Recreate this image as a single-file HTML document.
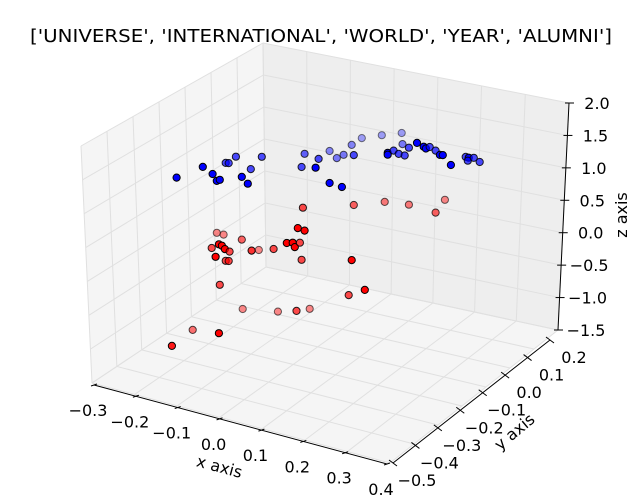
<!DOCTYPE html>
<html><head><meta charset="utf-8"><style>
html,body{margin:0;padding:0;background:#fff;}
svg{display:block;font-family:"DejaVu Sans","Liberation Sans",sans-serif;}
</style></head><body>
<svg id="chart" width="640" height="500" viewBox="0 0 640 500" xmlns="http://www.w3.org/2000/svg">
<rect width="640" height="500" fill="#fff"/>
<text x="321" y="42" text-anchor="middle" font-size="18" textLength="582" lengthAdjust="spacingAndGlyphs" fill="#000">['UNIVERSE', 'INTERNATIONAL', 'WORLD', 'YEAR', 'ALUMNI']</text>
<g id="panes"></g>
<g id="grid"></g>
<g id="axes"></g>
<g id="points"></g>
<text x="0" y="0" transform="translate(218,472) rotate(15)" text-anchor="middle" font-size="16">x axis</text>
<text x="0" y="0" transform="translate(518,436) rotate(-40)" text-anchor="middle" font-size="16">y axis</text>
<text x="0" y="0" transform="translate(627,215) rotate(-90)" text-anchor="middle" font-size="16">z axis</text>
</svg>
<script>
// ---- data ----
const xTicks = [-0.3,-0.2,-0.1,0.0,0.1,0.2,0.3,0.4];
const yTicks = [-0.5,-0.4,-0.3,-0.2,-0.1,0.0,0.1,0.2];
const zTicks = [-1.5,-1.0,-0.5,0.0,0.5,1.0,1.5,2.0];
const xTickLabels = ["\u22120.3","\u22120.2","\u22120.1","0.0","0.1","0.2","0.3","0.4"];
const yTickLabels = ["\u22120.5","\u22120.4","\u22120.3","\u22120.2","\u22120.1","0.0","0.1","0.2"];
const zTickLabels = ["\u22121.5","\u22121.0","\u22120.5","0.0","0.5","1.0","1.5","2.0"];
const Y_DEPTH = -0.15;
const blueX = [-0.30,-0.238,-0.215,-0.205,-0.198,-0.184,-0.177,-0.160,-0.146,-0.125,-0.132,-0.099,0.002,-0.005,0.035,0.028,0.061,0.061,0.078,0.094,0.090,0.113,0.118,0.137,0.184,0.231,0.198,0.198,0.212,0.224,0.233,0.238,0.248,0.267,0.283,0.288,0.297,0.311,0.321,0.328,0.347,0.382,0.389,0.387,0.401,0.415];
const blueZ = [0.71,0.99,0.92,0.83,0.86,1.15,1.16,1.29,1.00,1.16,0.92,1.40,1.63,1.41,1.61,1.46,1.78,1.28,1.70,1.78,1.27,1.97,1.82,2.12,2.25,2.37,2.00,1.97,2.06,2.03,2.20,2.03,2.17,2.28,2.25,2.23,2.27,2.24,2.19,2.20,2.08,2.27,2.27,2.22,2.29,2.25];
const blueDepth = [1,1,1,1,1,0.7,0.7,0.7,1,0.7,1,0.7,0.6,0.7,0.7,1,0.45,1,0.5,0.5,1,0.45,0.7,0.35,0.35,0.35,1,1,0.7,0.7,0.5,0.7,0.7,1,1,1,0.7,0.7,1,1,1,0.7,1,0.7,0.7,0.7];
const redX = [-0.002,-0.014,0.002,-0.040,-0.026,-0.021,-0.009,0.118,0.191,0.248,0.333,0.311,-0.205,-0.189,-0.146,-0.200,-0.193,-0.217,-0.186,-0.175,-0.208,-0.184,-0.177,-0.123,-0.106,-0.071,-0.005,0.113,0.144,0.106,-0.198,-0.144,-0.061,-0.017,0.014,-0.262,-0.200,-0.311];
const redZ = [0.78,0.44,0.43,0.16,0.19,0.13,0.22,1.04,1.22,1.28,1.51,1.27,0.02,0.02,0.02,-0.15,-0.16,-0.24,-0.20,-0.22,-0.36,-0.38,-0.37,-0.11,-0.07,0.01,-0.04,0.17,-0.24,-0.39,-0.78,-1.06,-0.95,-0.86,-0.77,-1.60,-1.54,-1.94];
const redDepth = [0.7,1,1,1,1,1,0.7,0.6,0.5,0.5,0.45,0.6,0.45,0.45,0.6,1,1,0.7,1,0.7,1,0.7,0.7,0.8,0.45,0.7,0.7,1,1,0.7,0.7,0.45,0.45,0.7,0.45,0.55,1,0.9];

// ---- projection ----
function proj(x,y,z){
  return [95 + 424*(x+0.3) + 233*(y+0.5), 381 + 116*(x+0.3) - 177*(y+0.5) - 64*(z+1.5)];
}
const NS='http://www.w3.org/2000/svg';
function mk(tag, attrs, parent){const e=document.createElementNS(NS,tag);for(const k in attrs)e.setAttribute(k,attrs[k]);parent.appendChild(e);return e;}
function lerp(a,b,t){return [a[0]+(b[0]-a[0])*t,a[1]+(b[1]-a[1])*t];}
const A=[92,383], B=[390,463], C=[558,330], D=[266,267];
const A2=[81,146], D2=[263,43], C2=[569,103];
const panes=document.getElementById('panes');
const pts=p=>p.map(q=>q.join(',')).join(' ');
let e;
e=mk('polygon',{points:pts([A,B,C,D]),fill:'#f5f5f5'},panes);


e=mk('polygon',{points:pts([A,A2,D2,D]),fill:'#f5f5f5'},panes);


e=mk('polygon',{points:pts([D,D2,C2,C]),fill:'#eeeeee'},panes);


const grid=document.getElementById('grid');
function gl(p,q){const l=mk('line',{x1:p[0],y1:p[1],x2:q[0],y2:q[1],stroke:'#e0e0e0','stroke-width':1},grid);

}
const tx=v=>(v-(-0.3))/0.7, ty=v=>(v-(-0.5))/0.7, tz=v=>(v-(-1.5))/3.5;
xTicks.forEach(v=>{gl(lerp(A,B,tx(v)),lerp(D,C,tx(v))); gl(lerp(D,C,tx(v)),lerp(D2,C2,tx(v)));});
yTicks.forEach(v=>{gl(lerp(A,D,ty(v)),lerp(B,C,ty(v))); gl(lerp(A,D,ty(v)),lerp(A2,D2,ty(v)));});
zTicks.forEach(v=>{gl(lerp(A,A2,tz(v)),lerp(D,D2,tz(v))); gl(lerp(D,D2,tz(v)),lerp(C,C2,tz(v)));});
const axes=document.getElementById('axes');
function al(p,q,name){const l=mk('line',{x1:p[0],y1:p[1],x2:q[0],y2:q[1],stroke:'#000','stroke-width':1},axes);

}
function lbl(x,y,s,name,anchor){const t=mk('text',{x:x,y:y,'font-size':16,'text-anchor':anchor||'middle'},axes);t.textContent=s;

}
const XA=[A[0]+2,A[1]+2], XB=[B[0]-3,B[1]+1];
al(XA,XB,'x-axis-line');
xTicks.forEach((v,i)=>{const p=lerp(XA,XB,tx(v));al([p[0]-3,p[1]+1],[p[0]+3,p[1]-1],'x-tick');lbl(p[0]-6,p[1]+31,xTickLabels[i],'x-tick-label');});
const YA=[B[0]+3,B[1]], YB=[C[0]-8,C[1]+10];
al(YA,YB,'y-axis-line');
yTicks.forEach((v,i)=>{const p=lerp(YA,YB,ty(v));al([p[0]-4,p[1]-3],[p[0]+4,p[1]+3],'y-tick');lbl(p[0]+24,p[1]+23,yTickLabels[i],'y-tick-label');});
al(C,C2,'z-axis-line');
zTicks.forEach((v,i)=>{const p=lerp(C,C2,tz(v));al([p[0]-4,p[1]],[p[0]+5,p[1]],'z-tick');lbl(p[0]+28,p[1]+6,zTickLabels[i],'z-tick-label');});
const pg=document.getElementById('points');
function drawSeries(xs,zs,ds,color,name){
  xs.forEach((x,i)=>{const p=proj(x,Y_DEPTH,zs[i]);
    const c=mk('circle',{cx:p[0].toFixed(1),cy:p[1].toFixed(1),r:3.6,fill:color,'fill-opacity':ds[i],stroke:'#000','stroke-opacity':Math.min(1,ds[i]+0.15),'stroke-width':1},pg);
    
    
  });
}
drawSeries(redX,redZ,redDepth,'#ff0000','red-point');
drawSeries(blueX,blueZ,blueDepth,'#0000ff','blue-point');
</script>
</body></html>
